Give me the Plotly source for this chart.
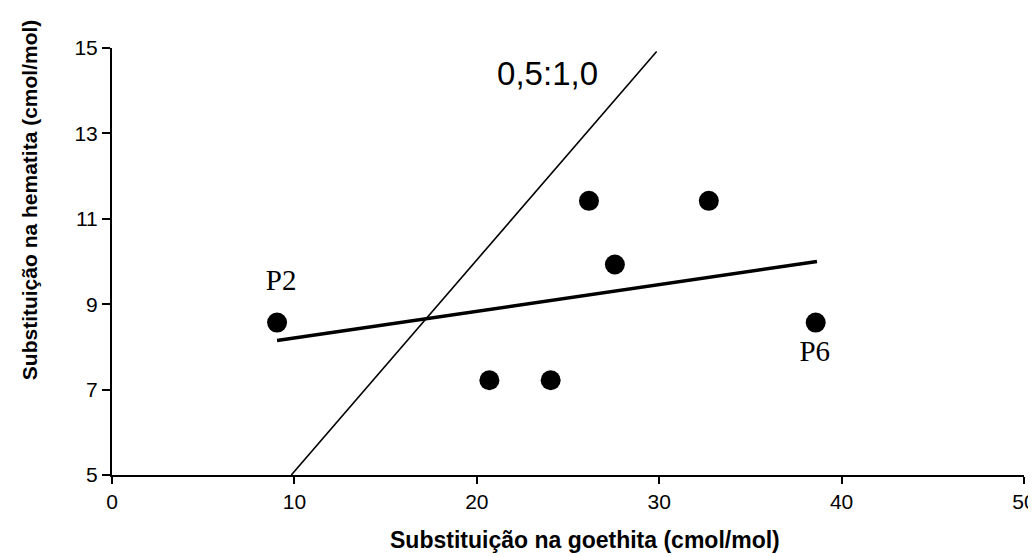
import plotly.graph_objects as go

# Data
goethita = [9.05, 20.69, 24.05, 26.15, 27.57, 32.72, 38.58]
hematita = [8.57, 7.22, 7.22, 11.42, 9.93, 11.42, 8.57]

# regression line end points
reg_x = [9.05, 38.65]
reg_y = [8.15, 10.0]

# 0,5:1,0 reference line end points
ref_x = [9.83, 29.86]
ref_y = [5.0, 14.92]

x_ticks = [0, 10, 20, 30, 40, 50]
y_ticks = [5, 7, 9, 11, 13, 15]

point_labels = ["P2", "P6"]
point_label_x = [9.27, 38.53]
point_label_y = [9.51, 7.84]

ratio_label = "0,5:1,0"
ratio_label_x = 23.88
ratio_label_y = 14.32

x_title = "Substituição na goethita (cmol/mol)"
y_title = "Substituição na hematita (cmol/mol)"

# page body has an 8px margin, so the figure is drawn 8px smaller
W, H = 1028, 549
L, R, T, B = 103.5, 11.7, 40.3, 81.5
PW, PH = W - L - R, H - T - B

fig = go.Figure()
fig.add_trace(go.Scatter(x=ref_x, y=ref_y, mode="lines",
                         line=dict(color="black", width=1.6), showlegend=False))
fig.add_trace(go.Scatter(x=reg_x, y=reg_y, mode="lines",
                         line=dict(color="black", width=3.5), showlegend=False))
fig.add_trace(go.Scatter(x=goethita, y=hematita, mode="markers",
                         marker=dict(color="black", size=20), showlegend=False))

fig.add_trace(go.Scatter(x=point_label_x, y=point_label_y, mode="text",
                         text=point_labels,
                         textfont=dict(family="Liberation Serif", size=29, color="black"),
                         showlegend=False))
fig.add_trace(go.Scatter(x=[ratio_label_x], y=[ratio_label_y], mode="text",
                         text=[ratio_label],
                         textfont=dict(family="Liberation Sans", size=33, color="black"),
                         showlegend=False))

fig.add_annotation(text="<b>" + x_title + "</b>", xref="paper", yref="paper",
                   x=(577 - L) / PW, y=-(533 - (H - B)) / PH,
                   xanchor="center", yanchor="middle", showarrow=False,
                   font=dict(family="Liberation Sans", size=23, color="black"))
fig.add_annotation(text="<b>" + y_title + "</b>", xref="paper", yref="paper",
                   x=(21 - L) / PW, y=((H - B) - 192) / PH, textangle=-90,
                   xanchor="center", yanchor="middle", showarrow=False,
                   font=dict(family="Liberation Sans", size=21, color="black"))

axis_common = dict(showgrid=False, zeroline=False, showline=True, linecolor="black",
                   linewidth=2, ticks="outside", tickcolor="black", tickwidth=2,
                   automargin=False,
                   tickfont=dict(family="Liberation Sans", size=21, color="black"))

fig.update_xaxes(range=[0, 50], tickvals=x_ticks, ticklen=7, **axis_common)
fig.update_yaxes(range=[5, 15], tickvals=y_ticks, ticklen=8, **axis_common)

fig.update_layout(width=W, height=H,
                  margin=dict(l=L, r=R, t=T, b=B, pad=0, autoexpand=False),
                  plot_bgcolor="white", paper_bgcolor="white",
                  showlegend=False)

fig.write_html("out.html")
